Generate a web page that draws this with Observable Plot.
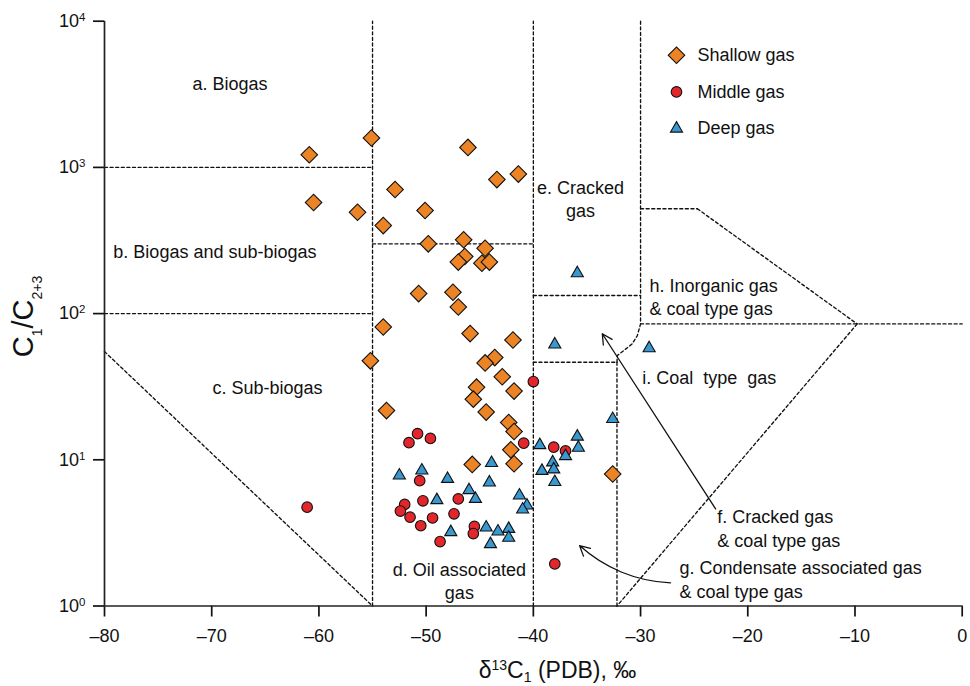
<!DOCTYPE html>
<html><head><meta charset="utf-8">
<script src="https://cdn.jsdelivr.net/npm/d3@7"></script>
<script src="https://cdn.jsdelivr.net/npm/@observablehq/plot@0.6"></script>
<style>body{margin:0;background:#fff;}</style>
</head><body><div id="chart"></div>
<script>
// ---- data (δ13C1 ‰ PDB, C1/C2+3) ----
const shallowX = [-55.1,-60.9,-46.1,-41.4,-43.4,-52.9,-60.5,-56.4,-50.1,-54.0,-49.8,-46.5,-44.5,-46.4,-47.0,-44.8,-44.1,-50.7,-47.5,-47.0,-54.0,-45.9,-41.9,-55.2,-43.6,-44.5,-42.9,-45.3,-41.8,-45.6,-53.7,-44.4,-42.3,-41.8,-42.1,-45.7,-41.8,-32.6];
const shallowY = [1590,1220,1370,900,825,706,575,494,507,400,300,320,280,246,225,221,225,137,140,111,81,73,66,47.5,50,46,37,31.4,29.5,26,21.7,21.2,18,15.6,11.7,9.3,9.4,8.0];
const middleX = [-40.0,-50.8,-51.6,-49.6,-40.9,-38.1,-37.0,-50.6,-52.0,-52.4,-50.3,-47.0,-51.5,-49.4,-47.4,-50.5,-45.5,-45.6,-48.7,-38.0,-61.1];
const middleY = [34.3,15.1,13.1,14.0,13.0,12.2,11.5,7.2,4.95,4.46,5.24,5.4,4.05,4.0,4.27,3.54,3.5,3.13,2.76,1.94,4.74];
const deepX = [-35.9,-38.0,-29.2,-32.6,-35.9,-35.8,-39.4,-37.0,-38.2,-39.2,-38.1,-38.0,-52.5,-50.4,-48.0,-43.9,-44.1,-46.0,-49.0,-45.4,-41.3,-40.6,-41.0,-47.7,-44.4,-43.3,-42.3,-42.3,-44.0];
const deepY = [189,61.5,58,19,14.4,12.1,12.6,10.6,9.6,8.4,8.6,7.05,7.8,8.45,7.4,9.5,7.0,6.2,5.3,5.4,5.7,4.87,4.57,3.2,3.44,3.23,3.37,2.93,2.65];

const seriesNames = ["Shallow gas", "Middle gas", "Deep gas"];
const xTicks = [-80, -70, -60, -50, -40, -30, -20, -10, 0];
const yTicks = [1, 10, 100, 1000, 10000];

// region boundaries (data coordinates)
const boundaryLines = [
  [[-55, 1], [-55, 10000]],
  [[-80, 1000], [-55, 1000]],
  [[-80, 100], [-55, 100]],
  [[-80, 55], [-55, 1]],
  [[-55, 300], [-40, 300]],
  [[-40, 1], [-40, 10000]],
  [[-40, 133], [-30, 133]],
  [[-30, 10000], [-30, 85], [-30.3, 70.8], [-30.78, 62.1], [-31.56, 55.9], [-32.17, 51.7], [-32.2, 46.5]],
  [[-40, 46.5], [-32.2, 46.5]],
  [[-32.2, 46.5], [-32.2, 1]],
  [[-30, 85], [0, 85]],
  [[-30, 521], [-24.7, 521]],
  [[-24.7, 521], [-9.8, 85]],
  [[-9.8, 85], [-32.2, 1]]
];

const regionLabels = ["a. Biogas", "b. Biogas and sub-biogas", "c. Sub-biogas", "d. Oil associated\ngas", "e. Cracked\ngas", "h. Inorganic gas\n& coal type gas", "i. Coal\u00a0 type\u00a0 gas", "f. Cracked gas\n& coal type gas", "g. Condensate associated gas\n& coal type gas"];
const labelX = [-68.3, -69.7, -64.8, -46.9, -35.6, -29.16, -29.84, -22.85, -26.36];
const labelY = [3810, 270, 31.5, 1.506, 618, 131.5, 37.4, 3.44, 1.538];
const labelAnchor = ["middle", "middle", "middle", "middle", "middle", "start", "start", "start", "start"];

const arrowX1 = [-23.0, -27.2];
const arrowY1 = [4.62, 1.44];
const arrowX2 = [-33.57, -35.69];
const arrowY2 = [72.8, 2.59];
const arrowBend = [0, 20];

// ---- build tables ----
const shallow = shallowX.map((x, i) => ({x, y: shallowY[i]}));
const middle = middleX.map((x, i) => ({x, y: middleY[i]}));
const deep = deepX.map((x, i) => ({x, y: deepY[i]}));
const bounds = boundaryLines.flatMap((pts, id) => pts.map(([x, y]) => ({id, x, y})));
const labels = regionLabels.map((t, i) => ({t, x: labelX[i], y: labelY[i], a: labelAnchor[i]}));
const arrows = arrowX1.map((x1, i) => ({x1, y1: arrowY1[i], x2: arrowX2[i], y2: arrowY2[i], bend: arrowBend[i]}));

const colors = {shallow: "#ec8426", middle: "#e2262b", deep: "#3a98d0"};
const edge = "#111";
const styles = [
  {symbol: "square", rotate: 45, r: 6.6, fill: colors.shallow},
  {symbol: "circle", r: 5.3, fill: colors.middle},
  {symbol: "triangle", r: 4.5, fill: colors.deep}
];

const legendMarks = seriesNames.flatMap((name, i) => {
  const dy = 34 + i * 36.7;
  return [
    Plot.dot([0], {frameAnchor: "top-left", dx: 572, dy, stroke: edge, strokeWidth: 1.1, ...styles[i]}),
    Plot.text([name], {frameAnchor: "top-left", dx: 593, dy, text: d => d, textAnchor: "start", lineAnchor: "middle", fontSize: 18, fill: "#111"})
  ];
});

const fmtX = d => d < 0 ? "\u2013" + Math.abs(d) : String(d);

const plot = Plot.plot({
  width: 970,
  height: 686,
  marginLeft: 104,
  marginRight: 8.3,
  marginTop: 20.7,
  marginBottom: 80.5,
  style: {fontFamily: "'Liberation Sans', Arial, Helvetica, sans-serif", fontSize: "18px", background: "#fff", color: "#111"},
  x: {domain: [-80, 0]},
  y: {type: "log", domain: [1, 10000]},
  marks: [
    Plot.line(bounds, {x: "x", y: "y", z: "id", stroke: "#111", strokeWidth: 1.35, strokeDasharray: "3,2.6"}),
    Plot.axisX({ticks: xTicks, tickSize: 11, tickPadding: 12, tickFormat: fmtX, strokeWidth: 1.7, label: null, fontSize: 18}),
    Plot.axisY({ticks: yTicks, tickSize: 11, tickPadding: 8, tickFormat: d => String(Math.round(Math.log10(d))), strokeWidth: 1.7, label: null, fontSize: 18}),
    Plot.ruleX([-80], {y1: 1, y2: 10000, strokeWidth: 1.7, stroke: "#222"}),
    Plot.ruleY([1], {strokeWidth: 1.7, stroke: "#222"}),
    Plot.text(labels, {x: "x", y: "y", text: "t", textAnchor: "start", filter: d => d.a === "start", lineAnchor: "middle", lineHeight: 1.3, fontSize: 18, fill: "#111"}),
    Plot.text(labels, {x: "x", y: "y", text: "t", textAnchor: "middle", filter: d => d.a === "middle", lineAnchor: "middle", lineHeight: 1.3, fontSize: 18, fill: "#111"}),
    Plot.arrow(arrows.filter(d => d.bend === 0), {x1: "x1", y1: "y1", x2: "x2", y2: "y2", stroke: "#111", strokeWidth: 1.3, headLength: 13, headAngle: 55}),
    Plot.arrow(arrows.filter(d => d.bend !== 0), {x1: "x1", y1: "y1", x2: "x2", y2: "y2", bend: 20, stroke: "#111", strokeWidth: 1.3, headLength: 13, headAngle: 55}),
    Plot.dot(shallow, {x: "x", y: "y", stroke: edge, strokeWidth: 1.1, ...styles[0]}),
    Plot.dot(middle, {x: "x", y: "y", stroke: edge, strokeWidth: 1.1, ...styles[1]}),
    Plot.dot(deep, {x: "x", y: "y", stroke: edge, strokeWidth: 1.1, ...styles[2]}),
    ...legendMarks
  ]
});

document.getElementById("chart").append(plot);

// superscript exponents on y tick labels
const svg = d3.select(plot);
svg.selectAll('g[aria-label="y-axis tick label"] text').each(function () {
  const e = this.textContent;
  const t = d3.select(this);
  t.text("10");
  t.append("tspan").attr("dy", -6).attr("font-size", 11.5).text(e);
});

// axis titles with sub/superscripts
const xt = svg.append("text")
  .attr("x", 557.5).attr("y", 678.3)
  .attr("text-anchor", "middle").attr("font-size", 23).attr("fill", "#111");
xt.append("tspan").text("\u03b4");
xt.append("tspan").attr("font-size", 14).attr("dy", -8.3).text("13");
xt.append("tspan").attr("dy", 8.3).text("C");
xt.append("tspan").attr("font-size", 14).attr("dy", 3.4).text("1");
xt.append("tspan").attr("dy", -3.4).text(" (PDB), \u2030");

const yt = svg.append("text")
  .attr("transform", "translate(33,316.5) rotate(-90)")
  .attr("text-anchor", "middle").attr("font-size", 29).attr("fill", "#111");
yt.append("tspan").text("C");
yt.append("tspan").attr("font-size", 14).attr("dy", 9).text("1");
yt.append("tspan").attr("dy", -9).text("/C");
yt.append("tspan").attr("font-size", 14).attr("dy", 9).text("2+3");
</script>
</body></html>
